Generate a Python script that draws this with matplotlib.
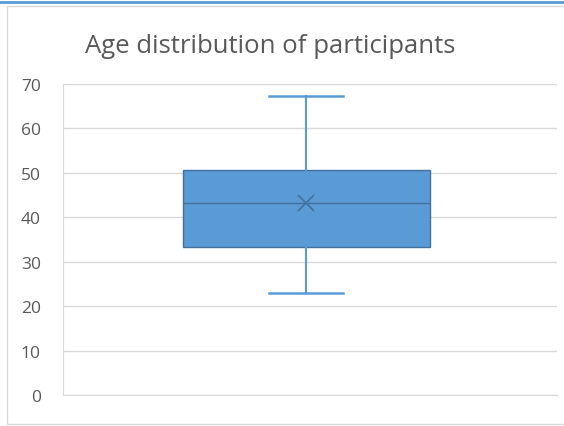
import matplotlib.pyplot as plt
from matplotlib.patches import Rectangle
from matplotlib.lines import Line2D

plt.rcParams['font.family'] = ['Open Sans', 'DejaVu Sans']

# five-number summary of participant ages
labels = ['Age']
q1 = [33.3]
median = [43.2]
q3 = [50.7]
whisker_low = [23.0]
whisker_high = [67.2]
mean = [43.2]

yticks = [0, 10, 20, 30, 40, 50, 60, 70]

stats = []
for i in range(len(labels)):
    stats.append({'label': labels[i], 'q1': q1[i], 'med': median[i], 'q3': q3[i],
                  'whislo': whisker_low[i], 'whishi': whisker_high[i],
                  'mean': mean[i], 'fliers': []})

fig = plt.figure(figsize=(5.64, 4.27), dpi=100)
ax = fig.add_axes([63 / 564, 31 / 427, 494 / 564, 311 / 427])

blue = '#5b9bd5'
edge = '#41719c'
ax.bxp(stats, positions=[0.992], widths=0.5, patch_artist=True, showmeans=True,
       showfliers=False, capwidths=0.15,
       boxprops=dict(facecolor=blue, edgecolor=edge, linewidth=1),
       medianprops=dict(color=edge, linewidth=1),
       whiskerprops=dict(color=blue, linewidth=1.5),
       capprops=dict(color=blue, linewidth=1.8),
       meanprops=dict(marker='x', markeredgecolor='#41719c', markersize=12,
                      markeredgewidth=1.2))

ax.set_xlim(0.5, 1.5)
ax.set_ylim(0, 70)
ax.set_yticks(yticks)
ax.set_xticks([])
ax.grid(axis='y', color='#d9d9d9', linewidth=1)
ax.set_axisbelow(True)
for side in ['top', 'right']:
    ax.spines[side].set_visible(False)
for side in ['left', 'bottom']:
    ax.spines[side].set_color('#d9d9d9')
ax.tick_params(axis='y', length=0, pad=16, labelsize=12.5, labelcolor='#595959')

fig.suptitle('Age distribution of participants', x=0.479, y=0.892,
             fontsize=18.5, color='#595959', va='center')

# chart frame and top accent line
fig.patches.append(Rectangle((7 / 564, 2 / 427), 1, 418 / 427, transform=fig.transFigure,
                             fill=False, edgecolor='#d9d9d9', linewidth=1))
fig.lines.append(Line2D([0, 1], [424.5 / 427, 424.5 / 427], transform=fig.transFigure,
                        color=blue, linewidth=2))

fig.savefig('out.png', dpi=100)
